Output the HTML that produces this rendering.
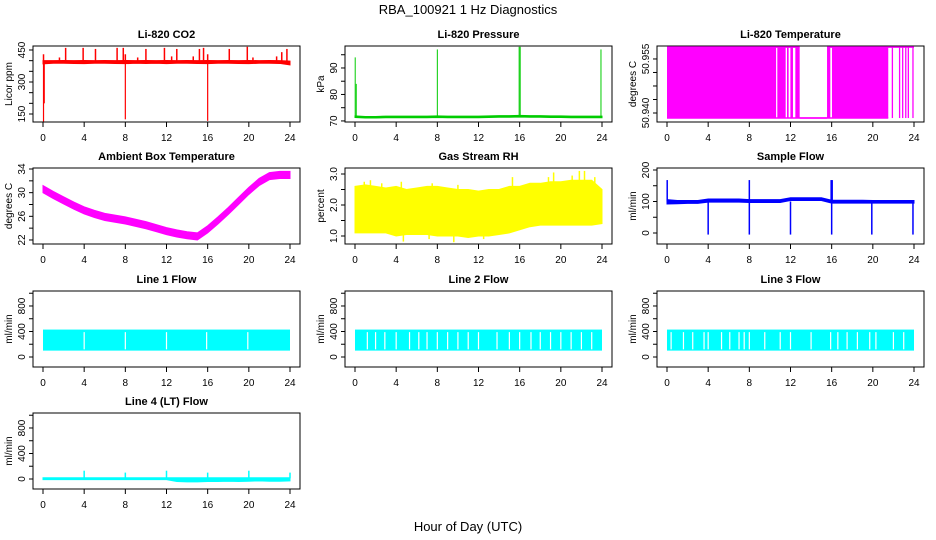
<!DOCTYPE html>
<html><head><meta charset="utf-8"><style>
body{margin:0;background:#fff}
svg{display:block;font-family:"Liberation Sans",sans-serif}
.t{font-size:11px;font-weight:bold;text-anchor:middle}
.tk{font-size:10px;text-anchor:middle}
</style></head><body>
<svg id="c" width="936" height="540" viewBox="0 0 936 540">
<rect width="936" height="540" fill="#fff"/>
<text x="468" y="14" font-size="13" text-anchor="middle">RBA_100921  1 Hz Diagnostics</text>
<text x="468" y="531" font-size="13" text-anchor="middle">Hour of Day (UTC)</text>
</svg>
<script>
// ---- data ----
const hours=[0,1,2,3,4,5,6,7,8,9,10,11,12,13,14,15,16,17,18,19,20,21,22,23,24];
const xTicks=[0,4,8,12,16,20,24];
const co2Lo=[385,388,388,387,386,388,388,387,386,388,387,388,386,388,388,387,386,388,388,387,386,388,388,387,380];
const co2Hi=[400,400,401,400,401,400,401,400,401,400,401,400,401,400,401,400,401,400,401,400,401,400,401,400,398];
const co2Up=[[0.05,430],[1.6,415],[2.2,460],[3.9,460],[5.1,455],[7.2,460],[7.8,460],[8.0,430],[9.2,415],[10.0,455],[11.8,460],[12.5,420],[13.0,455],[14.6,420],[15.2,455],[15.6,460],[16.0,430],[18.1,455],[19.85,465],[20.4,415],[22.7,420],[23.2,440],[23.7,455]];
const co2Down=[[0.05,115],[0.12,200],[8.0,125],[16.0,118]];
const presBase=[71.6,71.4,71.4,71.5,71.5,71.5,71.5,71.5,71.6,71.5,71.5,71.5,71.5,71.6,71.7,71.7,71.8,71.7,71.7,71.6,71.6,71.5,71.5,71.5,71.5];
const presSpikes=[[0.02,94],[0.12,84],[8.0,97],[15.95,98],[16.05,98],[23.9,97]];
const tempFill=[[0,10.6],[10.72,11.53],[11.66,11.82],[11.99,12.24],[12.47,12.89],[15.55,15.87],[16.03,21.5]];
const tempLines=[21.9,22.6,22.9,23.2,23.45,23.9];
const tempTop=[[0,12.89],[15.55,24]];
const tempBottom=[[0,21.5]];
const tempHiVal=50.9583, tempLoVal=50.9386;
const ambCenter=[30.6,29.6,28.7,27.8,27.0,26.4,25.9,25.6,25.3,24.9,24.5,24.0,23.5,23.1,22.8,22.6,23.8,25.3,26.9,28.6,30.3,31.8,32.8,33.0,33.0];
const ambSpread=[0.6,0.6,0.6,0.6,0.6,0.6,0.6,0.6,0.6,0.6,0.6,0.6,0.6,0.6,0.6,0.6,0.6,0.6,0.6,0.6,0.6,0.6,0.6,0.6,0.6];
const rhHi=[2.6,2.65,2.6,2.55,2.6,2.5,2.55,2.6,2.6,2.55,2.5,2.5,2.45,2.5,2.5,2.6,2.6,2.7,2.7,2.75,2.75,2.8,2.8,2.8,2.5];
const rhLo=[1.1,1.1,1.1,1.1,1.0,1.05,1.05,1.05,1.0,1.0,1.0,0.95,1.0,1.0,1.05,1.1,1.2,1.3,1.35,1.35,1.35,1.35,1.35,1.35,1.4];
const rhUp=[[0.9,2.75],[1.5,2.8],[2.6,2.7],[4.5,2.75],[7.5,2.7],[10.0,2.65],[15.3,2.9],[18.8,2.9],[19.3,3.05],[21.1,2.95],[21.8,3.1],[22.3,3.1],[23.3,2.9]];
const rhDown=[[4.7,0.82],[7.2,0.9],[9.6,0.8],[12.5,0.9]];
const sfLo=[92,93,94,94,98,98,98,98,97,97,97,97,103,103,103,103,95,95,95,95,95,95,95,95,95];
const sfHi=[106,103,103,103,108,108,108,108,106,106,106,106,112,112,112,112,104,104,104,104,103,103,103,103,103];
const sfDrops=[4.0,8.0,12.0,16.0,19.9,23.9];
const sfUp=[[0.02,168],[8.0,168],[15.95,168],[16.05,168]];
const flowLo=100, flowHi=430;
const l1Gaps=[4.0,8.0,12.0,15.9,19.9];
const l2Gaps=[1.2,2.0,2.9,4.0,5.3,6.2,7.0,8.0,9.0,10.0,11.0,12.0,13.8,15.0,16.0,17.1,18.0,19.0,20.0,21.0,22.0,23.0];
const l3Gaps=[0.4,1.6,2.5,3.6,4.0,5.3,6.1,7.0,7.5,8.0,9.5,11.0,12.0,14.0,15.9,16.6,17.5,18.5,19.7,20.3,22.0,23.0];
const l4Lo=[-10,-10,-10,-10,-10,-10,-10,-10,-10,-10,-10,-10,-10,-40,-45,-45,-40,-40,-35,-40,-35,-30,-35,-35,-30];
const l4Hi=[20,20,20,20,20,20,20,20,20,20,20,20,20,20,20,20,20,20,20,20,20,20,20,20,20];
const l4Spikes=[[4,130],[8,100],[12,130],[16,100],[20,130],[24,100]];

// ---- drawing ----
const svg=document.getElementById('c');
const NS='http://www.w3.org/2000/svg';
const colL=[33,345,657], rowT=[46,168,291,413], W=267, H=76;
function mk(tag,at,parent){const e=document.createElementNS(NS,tag);for(const k in at)e.setAttribute(k,at[k]);(parent||svg).appendChild(e);return e;}
function panel(c,r,title,ylab,ymin,ymax,ticks,labels,name){
  const L=colL[c],T=rowT[r];
  const g=mk('g',{});
  
  
  const x=h=>L+10+h*(247/24);
  const y=v=>T+H-(v-ymin)/(ymax-ymin)*H;
  const box=mk('rect',{x:L,y:T,width:W,height:H,fill:'none',stroke:'#000','stroke-width':1},g);
  
  
  const tt=mk('text',{x:L+W/2,y:T-8,class:'t'},g);tt.textContent=title;
  
  
  const ax=mk('g',{},g);
  
  
  const by=T+H;
  xTicks.forEach(h=>{mk('line',{x1:x(h),x2:x(h),y1:by,y2:by+5,stroke:'#000'},ax);
    const t=mk('text',{x:x(h),y:by+19,class:'tk'},ax);t.textContent=h;});
  const ay=mk('g',{},g);
  
  
  const ax0=L;
  ticks.forEach(v=>mk('line',{x1:ax0-4,x2:ax0,y1:y(v),y2:y(v),stroke:'#000'},ay));
  labels.forEach(v=>{const val=(v.lbl!==undefined)?v.v:v;const t=mk('text',{x:0,y:0,class:'tk',transform:`translate(${ax0-8},${y(val)}) rotate(-90)`},ay);t.textContent=(v.lbl!==undefined)?v.lbl:v;});
  const yl=mk('text',{x:0,y:0,class:'tk',transform:`translate(${L-21},${T+H/2}) rotate(-90)`},g);yl.textContent=ylab;
  
  
  const d=mk('g',{},g);
  
  
  return {x,y,d};
}
function band(p,lo,hi,col){
  let s='';hours.forEach((h,i)=>s+=(i?'L':'M')+p.x(h)+','+p.y(hi[i]));
  for(let i=hours.length-1;i>=0;i--)s+='L'+p.x(hours[i])+','+p.y(lo[i]);
  const e=mk('path',{d:s+'Z',fill:col,stroke:col,'stroke-width':1},p.d);
  
  
}
function vl(p,h,v1,v2,col,w){const e=mk('line',{x1:p.x(h),x2:p.x(h),y1:p.y(v1),y2:p.y(v2),stroke:col,'stroke-width':w||1.2},p.d);
  
  }

// CO2
let p=panel(0,0,'Li-820 CO2','Licor ppm',112.5,468.75,[150,200,250,300,350,400,450],[150,300,450],'co2-panel');
band(p,co2Lo,co2Hi,'#f00');
co2Up.forEach(s=>vl(p,s[0],395,s[1],'#f00',1.5));
co2Down.forEach(s=>vl(p,s[0],395,s[1],'#f00',1.2));
// Pressure
p=panel(1,0,'Li-820 Pressure','kPa',69.6,98.3,[70,75,80,85,90,95],[70,80,90],'pressure-panel');
band(p,presBase.map(v=>v-0.3),presBase.map(v=>v+0.3),'#0c0');
presSpikes.forEach(s=>vl(p,s[0],71.5,s[1],'#0c0',1));
// Li-820 temperature
p=panel(2,0,'Li-820 Temperature','degrees C',50.9375,50.9586,[50.940,50.94375,50.9475,50.95125,50.955],[{v:50.940,lbl:'50.940'},{v:50.955,lbl:'50.955'}],'li820-temp-panel');
tempFill.forEach(f=>{const e=mk('rect',{x:p.x(f[0]),y:p.y(tempHiVal),width:p.x(f[1])-p.x(f[0]),height:p.y(tempLoVal)-p.y(tempHiVal),fill:'#f0f'},p.d);
  
  });
tempLines.forEach(h=>vl(p,h,tempLoVal,tempHiVal,'#f0f',1.3));
tempTop.forEach(s=>mk('line',{x1:p.x(s[0]),x2:p.x(s[1]),y1:p.y(tempHiVal),y2:p.y(tempHiVal),stroke:'#f0f','stroke-width':1.5},p.d));
tempBottom.forEach(s=>mk('line',{x1:p.x(s[0]),x2:p.x(s[1]),y1:p.y(tempLoVal),y2:p.y(tempLoVal),stroke:'#f0f','stroke-width':1.5},p.d));
mk('line',{x1:p.x(12.89),x2:p.x(15.55),y1:p.y(tempLoVal),y2:p.y(tempLoVal),stroke:'#f0f','stroke-width':1.5},p.d);
// Ambient
p=panel(0,1,'Ambient Box Temperature','degrees C',21.32,34.17,[22,24,26,28,30,32,34],[22,26,30,34],'ambient-temp-panel');
band(p,ambCenter.map((v,i)=>v-ambSpread[i]),ambCenter.map((v,i)=>v+ambSpread[i]),'#f0f');
// RH
p=panel(1,1,'Gas Stream RH','percent',0.742,3.194,[1.0,1.5,2.0,2.5,3.0],[{v:1,lbl:'1.0'},{v:2,lbl:'2.0'},{v:3,lbl:'3.0'}],'rh-panel');
band(p,rhLo,rhHi,'#ff0');
rhUp.forEach(s=>vl(p,s[0],2,s[1],'#ff0',1.5));
rhDown.forEach(s=>vl(p,s[0],2,s[1],'#ff0',1.5));
// Sample flow
p=panel(2,1,'Sample Flow','ml/min',-34.9,206.3,[0,50,100,150,200],[0,100,200],'sample-flow-panel');
band(p,sfLo,sfHi,'#00f');
sfDrops.forEach(h=>vl(p,h,100,-5,'#00f',1.5));
sfUp.forEach(s=>vl(p,s[0],100,s[1],'#00f',1.5));
// Line flows
function flow(c,r,title,gaps,name){
  const q=panel(c,r,title,'ml/min',-157,1035,[0,200,400,600,800,1000],[0,400,800],name);
  const e=mk('rect',{x:q.x(0),y:q.y(flowHi),width:q.x(24)-q.x(0),height:q.y(flowLo)-q.y(flowHi),fill:'#0ff'},q.d);
  
  
  gaps.forEach(h=>{const g=mk('line',{x1:q.x(h),x2:q.x(h),y1:q.y(flowHi-40),y2:q.y(flowLo+20),stroke:'#fff','stroke-width':1.2},q.d);
    
    });
  return q;
}
flow(0,2,'Line 1 Flow',l1Gaps,'line1-flow-panel');
flow(1,2,'Line 2 Flow',l2Gaps,'line2-flow-panel');
flow(2,2,'Line 3 Flow',l3Gaps,'line3-flow-panel');
p=panel(0,3,'Line 4 (LT) Flow','ml/min',-157,1035,[0,200,400,600,800,1000],[0,400,800],'line4-flow-panel');
band(p,l4Lo,l4Hi,'#0ff');
l4Spikes.forEach(s=>vl(p,s[0],10,s[1],'#0ff',1.5));
</script>
</body></html>
